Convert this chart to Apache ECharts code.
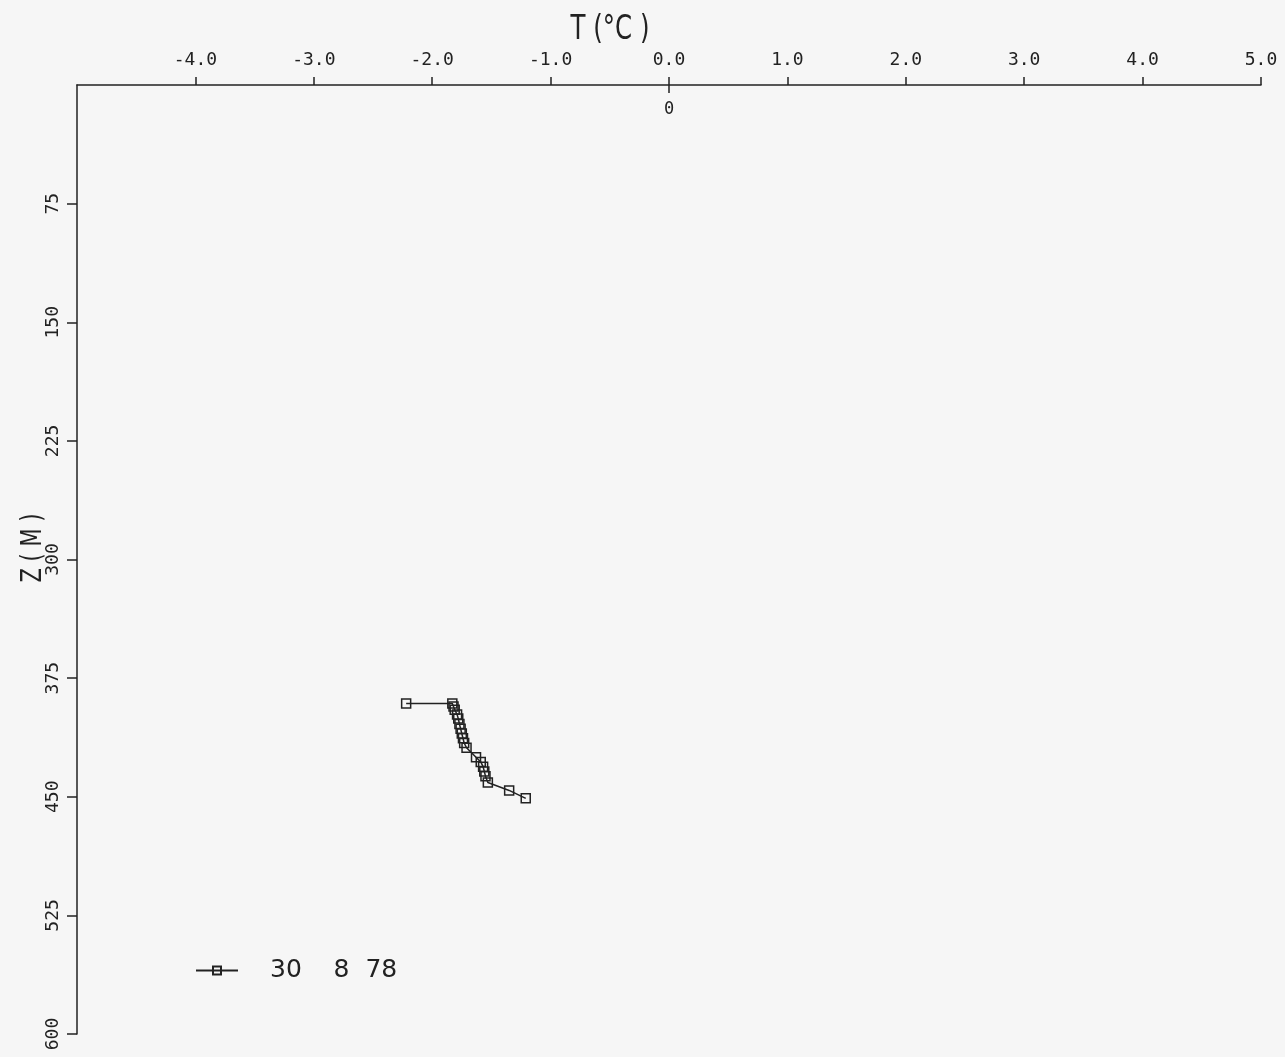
<!DOCTYPE html>
<html>
<head>
<meta charset="utf-8">
<script src="https://cdn.jsdelivr.net/npm/echarts@6/dist/echarts.min.js"></script>
<style>
  html, body { margin: 0; padding: 0; background: #f6f6f6; }
  #main { width: 1285px; height: 1057px; }
</style>
</head>
<body>
<div id="main"></div>
<script>
  // temperature profile, 30 8 78
  const seriesName = '30    8  78';
  const tempValues = [-2.22, -1.83, -1.82, -1.81, -1.79, -1.78, -1.77, -1.76, -1.75, -1.74,
    -1.73, -1.71, -1.63, -1.59, -1.57, -1.56, -1.55, -1.53, -1.35, -1.21];
  const depthValues = [391, 391, 393, 395, 398, 400.5, 404, 407, 410, 413,
    416, 419, 425, 428, 431, 434, 437, 441, 446, 451];
  const xTicks = [-4, -3, -2, -1, 0, 1, 2, 3, 4, 5];
  const yTicks = [75, 150, 225, 300, 375, 450, 525, 600];

  const ink = '#222';
  const tickFont = { fontFamily: 'DejaVu Sans Mono', fontSize: 18, color: ink };

  const chart = echarts.init(document.getElementById('main'));
  const points = tempValues.map((t, i) => [t, depthValues[i]]);

  chart.setOption({
    backgroundColor: '#f6f6f6',
    animation: false,
    grid: { left: 77, right: 24, top: 85, bottom: 23 },
    legend: {
      left: 195,
      top: 958,
      padding: 0,
      itemWidth: 42,
      itemHeight: 10,
      data: [seriesName],
      textStyle: {
        fontFamily: 'DejaVu Sans',
        fontSize: 25,
        color: ink,
        padding: [0, 0, 0, 27]
      }
    },
    xAxis: [
      {
        type: 'value',
        position: 'top',
        min: -5,
        max: 5,
        interval: 1,
        splitLine: { show: false },
        axisLine: { onZero: false, lineStyle: { color: ink, width: 1.5 } },
        axisTick: {
          inside: false,
          length: 8,
          customValues: xTicks,
          lineStyle: { color: ink, width: 1.5 }
        },
        axisLabel: Object.assign({
          margin: 16,
          customValues: xTicks,
          formatter: v => v.toFixed(1)
        }, tickFont)
      },
      {
        // the "0" mark hanging below the top axis
        type: 'value',
        position: 'top',
        min: -5,
        max: 5,
        interval: 5,
        splitLine: { show: false },
        axisLine: { show: false, onZero: false },
        axisTick: {
          inside: true,
          length: 8,
          customValues: [0],
          lineStyle: { color: ink, width: 1.5 }
        },
        axisLabel: Object.assign({
          inside: true,
          margin: 16,
          customValues: [0],
          formatter: () => '0'
        }, tickFont, { fontSize: 17 })
      }
    ],
    yAxis: {
      type: 'value',
      inverse: true,
      min: 0,
      max: 600,
      interval: 75,
      splitLine: { show: false },
      axisLine: { onZero: false, lineStyle: { color: ink, width: 1.5 } },
      axisTick: {
        length: 10,
        customValues: yTicks,
        lineStyle: { color: ink, width: 1.5 }
      },
      axisLabel: Object.assign({
        rotate: 90,
        margin: 15,
        customValues: yTicks
      }, tickFont)
    },
    graphic: [
      {
        type: 'text',
        x: 610,
        y: 30,
        scaleX: 0.72,
        style: {
          text: 'T (°C )',
          fontFamily: 'DejaVu Sans',
          fontSize: 34,
          fill: ink,
          align: 'center',
          verticalAlign: 'middle'
        }
      },
      {
        type: 'text',
        x: 34,
        y: 548,
        rotation: Math.PI / 2,
        scaleX: 0.75,
        style: {
          text: 'Z ( M )',
          fontFamily: 'DejaVu Sans',
          fontSize: 28,
          fill: ink,
          align: 'center',
          verticalAlign: 'middle'
        }
      }
    ],
    series: [
      {
        name: seriesName,
        type: 'line',
        xAxisIndex: 0,
        data: points,
        symbol: 'rect',
        symbolSize: 9,
        showAllSymbol: true,
        lineStyle: { color: ink, width: 1.5 },
        itemStyle: { color: 'transparent', borderColor: ink, borderWidth: 1.5 }
      }
    ]
  });
</script>
</body>
</html>
